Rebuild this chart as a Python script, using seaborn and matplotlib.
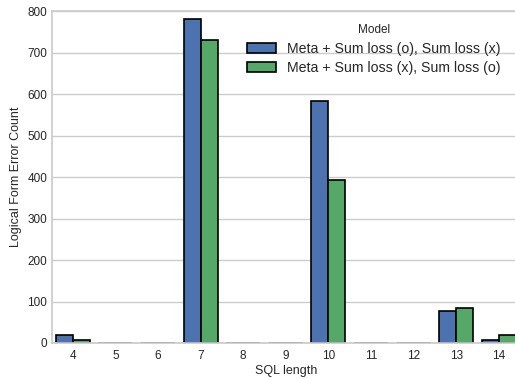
import seaborn as sns
import pandas as pd
import matplotlib
matplotlib.use("Agg")
from matplotlib import pyplot as plt

# values
sql_length = ["4", "5", "6", "7", "8", "9", "10", "11", "12", "13", "14"]
model_a = "Meta + Sum loss (o), Sum loss (x)"
model_b = "Meta + Sum loss (x), Sum loss (o)"
counts_a = [19, 0, 0, 781, 0, 0, 583, 0, 0, 77, 8]
counts_b = [7, 0, 0, 731, 0, 0, 394, 0, 0, 84, 19]

df = pd.DataFrame({
    "SQL length": sql_length * 2,
    "count": counts_a + counts_b,
    "Model": [model_a] * len(sql_length) + [model_b] * len(sql_length),
})

sns.set_style("whitegrid", {"axes.edgecolor": ".8", "grid.color": ".8"})
plt.rcParams["font.family"] = ["Liberation Sans", "DejaVu Sans"]
plt.rcParams["font.size"] = 8.5

fig = plt.figure(figsize=(5.15, 3.78), dpi=100)
ax = fig.add_axes([0.100, 0.0926, 0.91, 0.878])

sns.barplot(
    data=df, x="SQL length", y="count", hue="Model", order=sql_length,
    palette=["#4C72B0", "#55A868"], saturation=1,
    edgecolor="black", linewidth=1.2, ax=ax,
)

ax.set_ylim(0, 800)
ax.set_xlim(-0.5, 10.5)
ax.set_ylabel("Logical Form Error Count", fontsize=9)
ax.set_xlabel("SQL length", fontsize=9, labelpad=2)
ax.tick_params(axis="x", labelsize=8.5, length=0, pad=5)
ax.tick_params(axis="y", labelsize=8.5, length=0, pad=3)
ax.grid(axis="x", visible=False)
ax.grid(axis="y", color=".8", linewidth=1)
for s in ax.spines.values():
    s.set_color(".8")
    s.set_linewidth(1.25)

leg = ax.legend(title="Model", loc="upper right", bbox_to_anchor=(0.985, 1.0),
                frameon=False, fontsize=10.2, title_fontsize=8.5, labelspacing=0.4)

fig.savefig("out.png", dpi=100)
